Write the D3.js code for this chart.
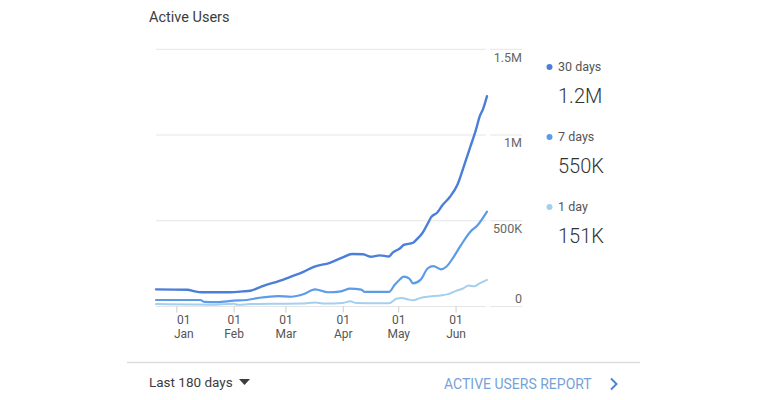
<!DOCTYPE html>
<html>
<head>
<meta charset="utf-8">
<script src="https://cdn.jsdelivr.net/npm/d3@7"></script>
<style>
  html, body { margin: 0; padding: 0; background: #fff; }
  svg { display: block; font-family: Roboto, "Noto Sans", sans-serif; }
</style>
</head>
<body>
<svg id="chart" width="768" height="400"></svg>
<script>
// ---- data ----
const seriesNames = ["30 days", "7 days", "1 day"];
const summaryValues = ["1.2M", "550K", "151K"];
const yTickValues = [0, 500000, 1000000, 1500000];
const yTickLabels = ["0", "500K", "1M", "1.5M"];
const monthTicks = ["2019-01-01", "2019-02-01", "2019-03-01", "2019-04-01", "2019-05-01", "2019-06-01"];
const dateRange = ["2018-12-21", "2019-06-18"];

const thirtyDayDates = ["2018-12-21","2019-01-07","2019-01-11","2019-01-15","2019-01-30","2019-02-06","2019-02-10","2019-02-15","2019-02-19","2019-02-25","2019-03-04","2019-03-11","2019-03-16","2019-03-25","2019-04-01","2019-04-06","2019-04-12","2019-04-16","2019-04-21","2019-04-26","2019-04-28","2019-05-02","2019-05-04","2019-05-09","2019-05-11","2019-05-14","2019-05-17","2019-05-19","2019-05-22","2019-05-25","2019-05-29","2019-06-02","2019-06-06","2019-06-09","2019-06-12","2019-06-14","2019-06-16","2019-06-18"];
const thirtyDayValues = [100000,98000,88000,83000,83000,88000,92000,112000,128000,147000,174000,203000,230000,255000,287000,306000,305000,290000,298000,292000,314000,340000,359000,372000,392000,427000,485000,524000,547000,592000,640000,710000,835000,932000,1030000,1107000,1156000,1227000];

const sevenDayDates = ["2018-12-21","2019-01-14","2019-01-16","2019-01-23","2019-02-01","2019-02-08","2019-02-15","2019-02-25","2019-03-04","2019-03-11","2019-03-17","2019-03-24","2019-03-31","2019-04-05","2019-04-11","2019-04-13","2019-04-26","2019-04-29","2019-05-02","2019-05-04","2019-05-07","2019-05-09","2019-05-13","2019-05-17","2019-05-20","2019-05-24","2019-05-27","2019-05-31","2019-06-04","2019-06-09","2019-06-13","2019-06-18"];
const sevenDayValues = [38000,38000,27000,26000,34000,38000,51000,61000,57000,73000,100000,83000,88000,104000,98000,85000,85000,125000,159000,174000,163000,135000,155000,223000,236000,217000,232000,290000,359000,436000,475000,553000];

const oneDayDates = ["2018-12-21","2019-01-10","2019-01-20","2019-02-01","2019-02-03","2019-02-10","2019-02-25","2019-03-10","2019-03-17","2019-03-22","2019-04-01","2019-04-05","2019-04-08","2019-04-20","2019-04-26","2019-04-30","2019-05-03","2019-05-06","2019-05-09","2019-05-13","2019-05-18","2019-05-24","2019-05-28","2019-06-01","2019-06-05","2019-06-08","2019-06-11","2019-06-14","2019-06-18"];
const oneDayValues = [14000,12000,10000,16000,10000,14000,16000,17000,24000,18000,21000,30000,21000,19000,19000,45000,50000,42000,36000,50000,58000,64000,72000,90000,105000,122000,118000,135000,155000];

const seriesColors = ["#4a7ed8", "#5b9be8", "#a4d0ee"];

// ---- chart ----
const parse = d3.timeParse("%Y-%m-%d");
const svg = d3.select("#chart");

const x = d3.scaleTime().domain(dateRange.map(parse)).range([156, 487]);
const y = d3.scaleLinear().domain([0, 1500000]).range([306.5, 49.3]);

// title
svg.append("text").attr("x", 149).attr("y", 22)
  .attr("font-size", 14.5).attr("fill", "#3c3c3c").text("Active Users");

// gridlines
const grid = svg.append("g");
yTickValues.forEach((v, i) => {
  grid.append("line").attr("x1", 156).attr("x2", 486)
    .attr("y1", y(v)).attr("y2", y(v))
    .attr("stroke", "#e6e6e6").attr("stroke-width", 1);
  grid.append("line").attr("x1", 490).attr("x2", 522)
    .attr("y1", y(v)).attr("y2", y(v))
    .attr("stroke", "#e6e6e6").attr("stroke-width", 1);
  grid.append("text").attr("x", 522)
    .attr("y", v === 0 ? y(v) - 8 : y(v) + 8)
    .attr("dy", "0.35em")
    .attr("text-anchor", "end").attr("font-size", 12.5).attr("fill", "#666")
    .text(yTickLabels[i]);
});

// x axis
const xAxis = d3.axisBottom(x)
  .tickValues(monthTicks.map(parse))
  .tickSize(6).tickPadding(3)
  .tickFormat("");
const gx = svg.append("g").attr("transform", "translate(0,306.5)").call(xAxis);
gx.select(".domain").remove();
gx.selectAll(".tick line").attr("stroke", "#cccccc");
const fmtDay = d3.timeFormat("%d"), fmtMon = d3.timeFormat("%b");
gx.selectAll(".tick").each(function(d, i) {
  const dx = i === 0 ? 7 : 0;
  const g = d3.select(this);
  g.append("text").attr("x", dx).attr("y", 17.5)
    .attr("text-anchor", "middle").attr("font-size", 12).attr("fill", "#555")
    .attr("font-family", "Roboto, sans-serif").text(fmtDay(d));
  g.append("text").attr("x", dx).attr("y", 31.5)
    .attr("text-anchor", "middle").attr("font-size", 12).attr("fill", "#555")
    .attr("font-family", "Roboto, sans-serif").text(fmtMon(d));
});

// lines
const line = d3.line().x(d => x(d[0])).y(d => y(d[1])).curve(d3.curveMonotoneX);
const series = [
  { dates: oneDayDates, values: oneDayValues, color: seriesColors[2], w: 2 },
  { dates: sevenDayDates, values: sevenDayValues, color: seriesColors[1], w: 2.2 },
  { dates: thirtyDayDates, values: thirtyDayValues, color: seriesColors[0], w: 2.4 }
];
series.forEach(s => {
  const pts = s.dates.map((d, i) => [parse(d), s.values[i]]);
  svg.append("path").datum(pts).attr("d", line)
    .attr("fill", "none").attr("stroke", s.color).attr("stroke-width", s.w)
    .attr("stroke-linejoin", "round").attr("stroke-linecap", "round");
});

// legend
seriesNames.forEach((name, i) => {
  const gy = 67 + i * 70;
  svg.append("circle").attr("cx", 549.5).attr("cy", gy).attr("r", 3).attr("fill", seriesColors[i]);
  svg.append("text").attr("x", 558).attr("y", gy).attr("dy", "0.35em")
    .attr("font-size", 12.5).attr("fill", "#555").text(name);
  svg.append("text").attr("x", 558).attr("y", gy + 29).attr("dy", "0.35em")
    .attr("font-size", 20).attr("font-weight", 300).attr("fill", "#333").text(summaryValues[i]);
});

// footer
svg.append("line").attr("x1", 127).attr("x2", 640).attr("y1", 362.5).attr("y2", 362.5)
  .attr("stroke", "#dddddd").attr("stroke-width", 1.5);
svg.append("text").attr("x", 149).attr("y", 382).attr("dy", "0.35em")
  .attr("font-size", 13.5).attr("fill", "#3c3c3c").text("Last 180 days");
svg.append("path").attr("d", "M239,379 L250,379 L244.5,385 Z").attr("fill", "#3c3c3c");
svg.append("text").attr("x", 444).attr("y", 384).attr("dy", "0.35em")
  .attr("font-size", 14).attr("fill", "#77a2d8").text("ACTIVE USERS REPORT");
svg.append("path").attr("d", "M611,378.5 L616.5,384 L611,389.5")
  .attr("fill", "none").attr("stroke", "#4a84d8").attr("stroke-width", 2);
</script>
</body>
</html>
